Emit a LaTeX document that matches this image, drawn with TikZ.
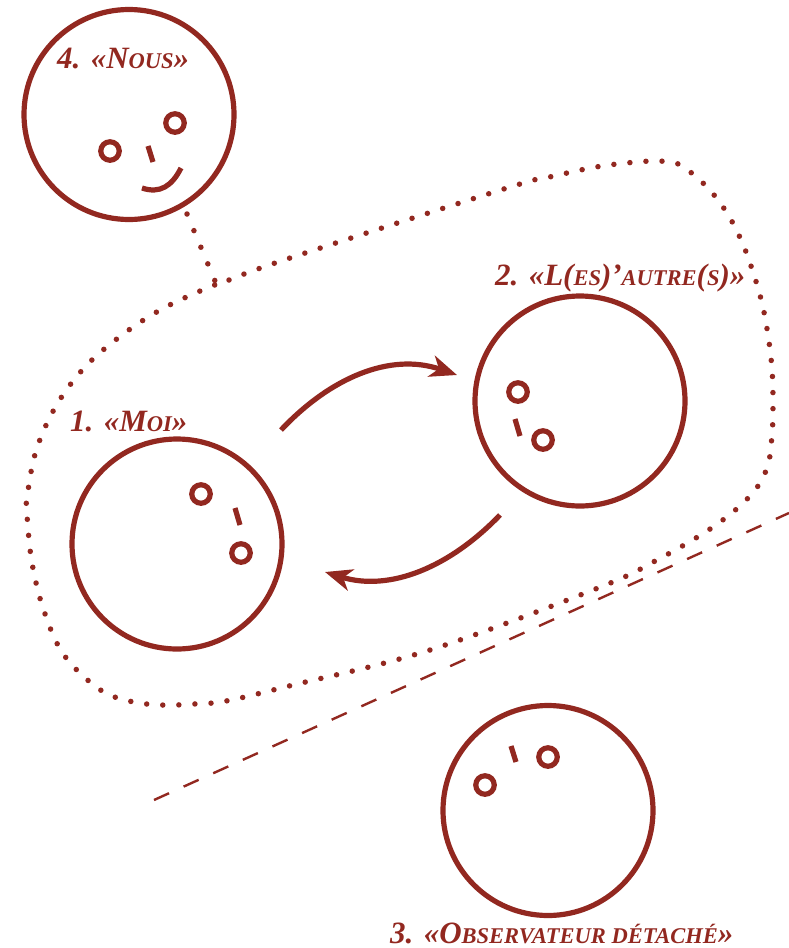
\documentclass[tikz,border=0pt]{standalone}
\usepackage{fontspec}
\setmainfont{Liberation Serif}
\usetikzlibrary{arrows.meta,positioning}
\definecolor{wine}{HTML}{922820}
\newcommand{\petit}[1]{{\fontsize{22.5}{22.5}\selectfont #1}}
\tikzset{
head/.style={draw=wine,line width=5.2pt,circle,minimum size=210pt,inner sep=0pt},
eye/.style={draw=wine,line width=5.2pt,circle,minimum size=18.5pt,inner sep=0pt},
nose/.style={draw=wine,line width=5.2pt},
link/.style={draw=wine,line width=5.2pt,-{Stealth[length=27pt,width=22pt,inset=8pt]}},
dots/.style={draw=wine,line width=5.5pt,line cap=round,dash pattern=on 0pt off 16.1pt},
title/.style={text=wine,font=\bfseries\itshape\fontsize{31}{31}\selectfont,inner sep=0pt,anchor=base west}
}
\begin{document}
\begin{tikzpicture}[x=1pt,y=-1pt]
\useasboundingbox (0,0) rectangle (789,948);
\node[head](nous) at (129,114.5){};
\node[head](moi) at (177,544){};
\node[head](autre) at (580,401){};
\node[head](obs) at (548,810.5){};
\node[eye](n1) at (110,151){};
\node[eye](n2) at (175,123){};
\node[eye](m1) at (201,494){};
\node[eye](m2) at (241,553){};
\node[eye](a1) at (518,392){};
\node[eye](a2) at (543,440){};
\node[eye](o1) at (485,785){};
\node[eye](o2) at (548,757){};
\draw[nose] (148,146)--(153,162);
\draw[nose] (235,508)--(240,525);
\draw[nose] (515,419)--(520,436);
\draw[nose] (511,746)--(516,762);
\draw[nose] (142,188) .. controls (160,194) and (172,186) .. (181,168);
\coordinate (a) at (281,430);
\coordinate (b) at (457,375);
\coordinate (c) at (500,515);
\coordinate (d) at (325,572);
\draw[link] (a) .. controls (330,378) and (390,352) .. (b);
\draw[link] (c) .. controls (450,567) and (390,592) .. (d);
\coordinate (e) at (154,800);
\coordinate (f) at (789,513);
\draw[draw=wine,line width=2.4pt,dash pattern=on 16.5pt off 16pt] (e)--(f);
\coordinate (g) at (187,214);
\coordinate (h) at (215,281);
\draw[dots,dash pattern=on 0pt off 18pt] (g)--(h);
\draw[dots] plot[smooth,tension=0.6] coordinates{
(229,280) (290,258) (507,188) (554,176) (602,166) (650,161) (667,162) (682,166)
(707,187) (727,213) (742,242) (753,272) (762,303) (768,335) (772,369) (773,402)
(772,435) (767,468) (750,496) (713,527) (657,560) (598,588) (430,650) (289,686)
(226,701) (194,704) (161,705) (129,701) (99,689) (64,655) (44,611) (32,563)
(27,515) (27,498) (36,451) (56,406) (85,367) (122,335) (162,309) (207,288) (222,283)};
\node[title](tn) at (57,68){4. «N\petit{OUS}»};
\node[title](tm) at (70,431){1. «M\petit{OI}»};
\node[title](ta) at (495,285){2. «L(\petit{ES})’\petit{AUTRE}(\petit{S})»};
\node[title](to) at (390,943){3. «O\petit{BSERVATEUR DÉTACHÉ}»};
\end{tikzpicture}
\end{document}
